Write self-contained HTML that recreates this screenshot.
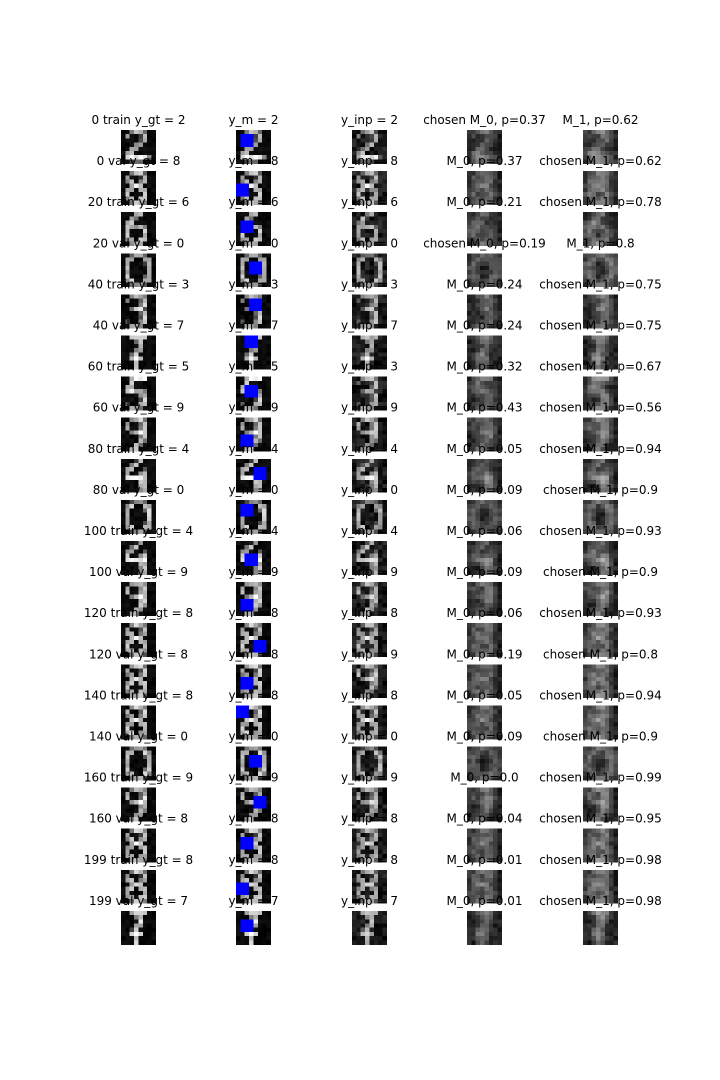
<!DOCTYPE html>
<html><head><meta charset="utf-8">
<style>
html,body{margin:0;padding:0;background:#fff;width:720px;height:1080px;overflow:hidden}
svg{display:block}
text{font-family:"DejaVu Sans","Liberation Sans",sans-serif;font-size:12px;fill:#000}
</style></head>
<body>
<svg id="fig" width="720" height="1080" viewBox="0 0 720 1080" shape-rendering="crispEdges"></svg>
<script>
// data arrays
const sampleIdx = [0,0,20,20,40,40,60,60,80,80,100,100,120,120,140,140,160,160,199,199];
const splits = ["train","val","train","val","train","val","train","val","train","val","train","val","train","val","train","val","train","val","train","val"];
const yGt  = [2,8,6,0,3,7,5,9,4,0,4,9,8,8,8,0,9,8,8,7];
const yM   = [2,8,6,0,3,7,5,9,4,0,4,9,8,8,8,0,9,8,8,7];
const yInp = [2,8,6,0,3,7,3,9,4,0,4,9,8,9,8,0,9,8,8,7];
const p0   = ["0.37","0.37","0.21","0.19","0.24","0.24","0.32","0.43","0.05","0.09","0.06","0.09","0.06","0.19","0.05","0.09","0.0","0.04","0.01","0.01"];
const p1   = ["0.62","0.62","0.78","0.8","0.75","0.75","0.67","0.56","0.94","0.9","0.93","0.9","0.93","0.8","0.94","0.9","0.99","0.95","0.98","0.98"];
const chosen = [0,1,1,0,1,1,1,1,1,1,1,1,1,1,1,1,1,1,1,1];
const maskCol = [1,0,1,3,3,2,2,1,4,1,2,1,4,1,0,3,4,1,0,1];
const maskRow = [1,3,2,2,1,0,2,4,2,1,3,4,4,3,0,2,2,2,3,2];

const templates = {
0:["..4884..",".8b..b8.",".b...4b.",".b....b.",".b....b.",".b...4b.",".8b..b8.","..4994.."],
1:["...6b...","..8ff...","...af...","...af...","...af...","...af...","...bf...","..6ff6.."],
2:["..6bb4..",".9..4b..","....3b..","...7a...","..8a....",".8b.....",".cffff6.","..444..."],
3:["..7bb7..",".5..3b..","....6b..","..6cc4..","....4b..","....3b..",".5..8b..","..9b7..."],
4:["...2a...","..6b....",".8a..5..",".b..8b..",".cdffd..","....ab..","....8a..","....6a.."],
5:["..cfff..","..b.....",".8a.....",".bfbb5..","....6b..","....4b..",".4..9a..","..cb7..."],
6:["...8b...","..b4....",".8a.....",".bb9b5..",".c...b..",".b...b..",".7b.ab..","..7ba..."],
7:["..bbbb..","...7a...","....c...","...8a...","..4c....","..bfb...","...c....","...b...."],
8:["..7bb6..",".9..3b..",".8a.7a..","..bfc...",".8a.9a..",".b...b..",".8b.9a..","..7bb5.."],
9:["..7bb6..",".a..6b..",".b..7c..","..8bfc..","....8b..","....a7..","...a7...","..9a...."]
};
const CW = 4.35, CH = 4.2;
const colX = [121,236,352,467,583];
const row0Top = 130, pitch = 41.1;
const colCenter = [138.5,253.5,369.5,484.5,600.5];
const svg = document.getElementById('fig');
const NS = 'http://www.w3.org/2000/svg';

function tval(d, r, c){ const ch = templates[d][r][c]; return ch==='.'?0:parseInt(ch,16)/15; }
function h(a,b,c){ let x=(a*73856093)^(b*19349663)^(c*83492791); x=(x^(x>>13))*1274126177; return ((x>>>0)%1000)/1000; }

function drawImg(x0, y0, fn, name){
  const g = document.createElementNS(NS,'g');
  
  
  for(let r=0;r<8;r++) for(let c=0;c<8;c++){
    const v = Math.max(0,Math.min(1,fn(r,c)));
    const s = Math.round(v*255);
    const rc = document.createElementNS(NS,'rect');
    rc.setAttribute('x', (x0+c*CW).toFixed(2));
    rc.setAttribute('y', (y0+r*CH).toFixed(2));
    rc.setAttribute('width', (CW+0.3).toFixed(2));
    rc.setAttribute('height', (CH+0.3).toFixed(2));
    rc.setAttribute('fill', `rgb(${s},${s},${s})`);
    g.appendChild(rc);
  }
  svg.appendChild(g);
  return g;
}
function blurT(d,r,c){
  let s=0,n=0;
  for(let dr=-1;dr<=1;dr++) for(let dc=-1;dc<=1;dc++){
    const rr=r+dr, cc=c+dc; if(rr<0||rr>7||cc<0||cc>7) continue;
    const w=(dr===0&&dc===0)?3:1; s+=w*tval(d,rr,cc); n+=w;
  }
  return s/n;
}
function addText(x,y,str,name){
  const t=document.createElementNS(NS,'text');
  t.setAttribute('x',x); t.setAttribute('y',y);
  t.setAttribute('text-anchor','middle');
  
  
  t.textContent=str; svg.appendChild(t);
}

for(let i=0;i<sampleIdx.length;i++){
  const top = row0Top + i*pitch;
  const d = yGt[i];
  drawImg(colX[0], top, (r,c)=>tval(d,r,c)*0.85 + 0.25*h(i,r,c)*(tval(d,r,c)>0?1:0.3), 'gt-image');
  const gm = drawImg(colX[1], top, (r,c)=>tval(d,r,c)*0.85 + 0.25*h(i,r,c)*(tval(d,r,c)>0?1:0.3), 'masked-image');
  const m = document.createElementNS(NS,'rect');
  m.setAttribute('x',(colX[1]+maskCol[i]*CW).toFixed(2));
  m.setAttribute('y',(top+maskRow[i]*CH).toFixed(2));
  m.setAttribute('width',(3*CW).toFixed(2));
  m.setAttribute('height',(3*CH).toFixed(2));
  m.setAttribute('fill','#0000ff');
  
  
  gm.appendChild(m);
  const di = yInp[i];
  drawImg(colX[2], top, (r,c)=>tval(di,r,c)*0.8 + 0.2*h(i+7,r,c), 'inpainted-image');
  drawImg(colX[3], top, (r,c)=>0.06+blurT(d,r,c)*0.6 + 0.15*h(i+3,r,c), 'model0-image');
  drawImg(colX[4], top, (r,c)=>0.06+blurT(d,r,c)*0.75 + 0.15*h(i+5,r,c), 'model1-image');
  const ty = top - 6;
  addText(colCenter[0], ty, `${sampleIdx[i]} ${splits[i]} y_gt = ${yGt[i]}`, 'gt-title');
  addText(colCenter[1], ty, `y_m = ${yM[i]}`, 'masked-title');
  addText(colCenter[2], ty, `y_inp = ${yInp[i]}`, 'inpaint-title');
  addText(colCenter[3], ty, (chosen[i]===0?'chosen ':'')+`M_0, p=${p0[i]}`, 'model0-title');
  addText(colCenter[4], ty, (chosen[i]===1?'chosen ':'')+`M_1, p=${p1[i]}`, 'model1-title');
}
</script>
</body></html>
